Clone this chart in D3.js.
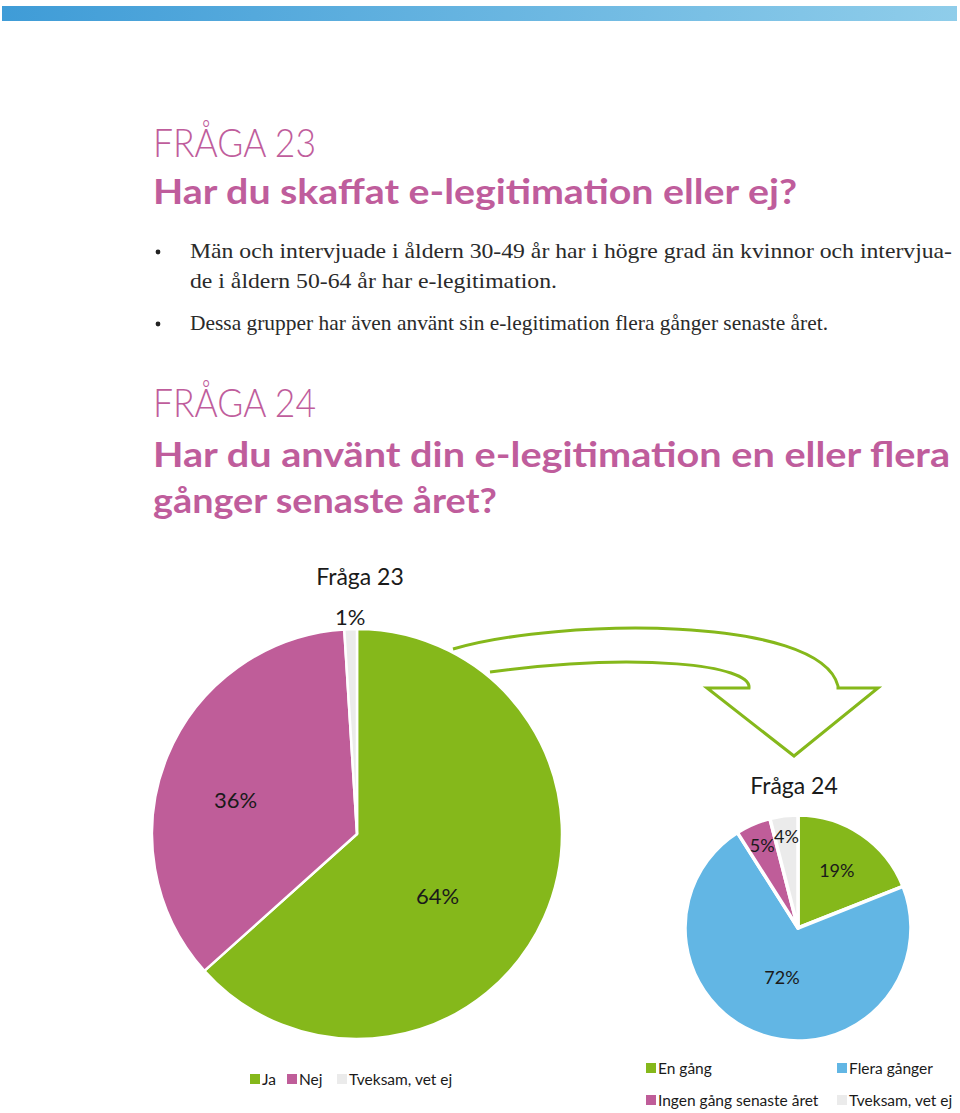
<!DOCTYPE html>
<html>
<head>
<meta charset="utf-8">
<script src="https://cdn.jsdelivr.net/npm/d3@7"></script>
<style>
  body { margin: 0; background: #fff; }
  svg { display: block; }
</style>
</head>
<body>
<svg id="page"></svg>
<script>
// Fråga 23 and Fråga 24 answers, in percent.
const q23Labels = ['Ja', 'Nej', 'Tveksam, vet ej'];
const q23Values = [64, 36, 1];
const q24Labels = ['En gång', 'Flera gånger', 'Ingen gång senaste året', 'Tveksam, vet ej'];
const q24Values = [19, 72, 5, 4];
const q23Colors = ['#85b81b', '#bf5d99', '#ebebeb'];
const q24Colors = ['#85b81b', '#62b6e4', '#bf5d99', '#ebebeb'];

const headingColor = '#bf5d9c';
const width = 960, height = 1113;

const svg = d3.select('#page').attr('width', width).attr('height', height);

// Top gradient band.
const grad = svg.append('defs').append('linearGradient').attr('id', 'band');
grad.append('stop').attr('offset', '0%').attr('stop-color', '#3f9cd7');
grad.append('stop').attr('offset', '100%').attr('stop-color', '#8fcdea');
svg.append('rect').attr('x', 2).attr('y', 6).attr('width', 955).attr('height', 15)
  .attr('fill', 'url(#band)');

// Stretch a text line to the width it has in the print layout.
function fit(sel, w) {
  sel.attr('textLength', w).attr('lengthAdjust', 'spacingAndGlyphs');
  return sel;
}

function heading(text, y, w, bold) {
  const t = svg.append('text').attr('x', 153).attr('y', y)
    .attr('fill', headingColor)
    .attr('font-family', 'Lato, "Open Sans", sans-serif')
    .attr('font-weight', bold ? 700 : 300)
    .attr('font-size', bold ? 35 : 40)
    .text(text);
  fit(t, w);
}

heading('FRÅGA 23', 157, 163, false);
heading('Har du skaffat e-legitimation eller ej?', 204, 644, true);

// Bullet text.
const bullets = [
  {y: 258, text: 'Män och intervjuade i åldern 30-49 år har i högre grad än kvinnor och intervjua-', w: 762, dot: true},
  {y: 288, text: 'de i åldern 50-64 år har e-legitimation.', w: 367, dot: false},
  {y: 330, text: 'Dessa grupper har även använt sin e-legitimation flera gånger senaste året.', w: 638, dot: true}
];
bullets.forEach((b) => {
  if (b.dot) svg.append('circle').attr('cx', 158).attr('cy', b.y - 6).attr('r', 2.4).attr('fill', '#222');
  fit(svg.append('text').attr('x', 190).attr('y', b.y)
    .attr('font-family', '"Liberation Serif", "DejaVu Serif", serif')
    .attr('font-size', 21).attr('fill', '#2a2a2a').text(b.text), b.w);
});

heading('FRÅGA 24', 417, 163, false);
heading('Har du använt din e-legitimation en eller flera', 467, 797, true);
heading('gånger senaste året?', 513, 344, true);

const sans = 'Lato, "Open Sans", sans-serif';

// Green outline arrow from Fråga 23 to Fråga 24.
const arrow = d3.path();
arrow.moveTo(453, 649);
arrow.bezierCurveTo(560, 618, 820, 615, 838, 686);
arrow.lineTo(838, 688);
arrow.lineTo(878, 688);
arrow.lineTo(794, 756);
arrow.lineTo(707, 688);
arrow.lineTo(749, 688);
arrow.bezierCurveTo(752, 665, 640, 652, 490, 672);
svg.append('path').attr('d', arrow.toString())
  .attr('fill', 'none').attr('stroke', '#85b81b').attr('stroke-width', 3)
  .attr('stroke-linejoin', 'miter');

function drawPie(cfg) {
  const pie = d3.pie().sort(null).value((d) => d)(cfg.values);
  const arc = d3.arc().innerRadius(0).outerRadius(cfg.r);
  const g = svg.append('g').attr('transform', `translate(${cfg.cx}, ${cfg.cy})`);
  g.selectAll('path').data(pie).join('path')
    .attr('d', arc)
    .attr('fill', (d, i) => cfg.colors[i])
    .attr('stroke', '#fff').attr('stroke-width', cfg.stroke)
    .attr('stroke-linejoin', 'round');
  // Percent labels along each slice's middle angle.
  g.selectAll('text.pct').data(pie).join('text')
    .attr('class', 'pct')
    .attr('transform', (d, i) => {
      const a = (d.startAngle + d.endAngle) / 2 + cfg.labelTurn[i];
      const rr = cfg.labelR[i];
      return `translate(${rr * Math.sin(a)}, ${-rr * Math.cos(a)})`;
    })
    .attr('text-anchor', 'middle').attr('dy', '0.35em')
    .attr('font-family', sans)
    .attr('font-size', cfg.fontSize).attr('fill', '#1a1a1a')
    .text((d) => d.data + '%');
  svg.append('text').attr('x', cfg.titleX).attr('y', cfg.titleY)
    .attr('text-anchor', 'middle').attr('font-family', sans).attr('font-size', 23)
    .attr('fill', '#1a1a1a').text(cfg.title);
}

drawPie({
  values: q23Values, colors: q23Colors, cx: 357, cy: 834, r: 205, stroke: 2.5,
  labelR: [102, 126, 217], labelTurn: [0.24, -0.12, 0], fontSize: 22,
  title: 'Fråga 23', titleX: 360, titleY: 585
});
drawPie({
  values: q24Values, colors: q24Colors, cx: 798, cy: 928, r: 113, stroke: 3.5,
  labelR: [69, 52, 90, 92], labelTurn: [0, 0, 0, 0], fontSize: 18,
  title: 'Fråga 24', titleX: 794, titleY: 794
});

// Legends.
function legend(labels, colors, spots) {
  labels.forEach((lab, i) => {
    const p = spots[i];
    svg.append('rect').attr('x', p[0]).attr('y', p[1] - 11).attr('width', 10).attr('height', 10)
      .attr('fill', colors[i]);
    svg.append('text').attr('x', p[0] + 12).attr('y', p[1])
      .attr('font-family', sans).attr('font-size', 15.5).attr('fill', '#1a1a1a').text(lab);
  });
}
legend(q23Labels, q23Colors, [[250, 1085], [287, 1085], [337, 1085]]);
legend(q24Labels, q24Colors, [[646, 1074], [837, 1074], [646, 1106], [837, 1106]]);
</script>
</body>
</html>
